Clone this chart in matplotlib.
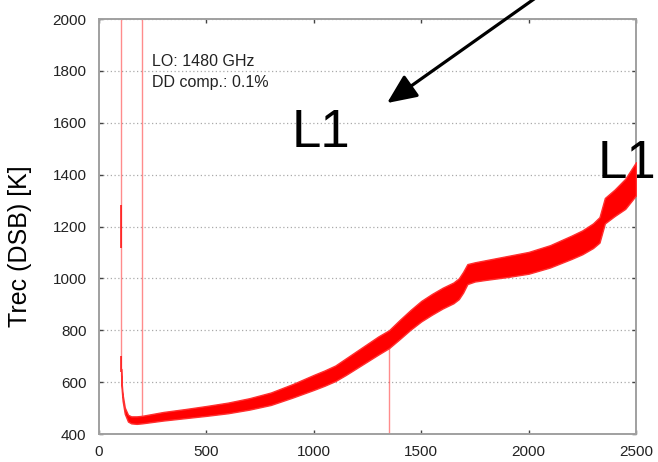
import matplotlib
matplotlib.use("Agg")
import matplotlib.pyplot as plt

plt.rcParams['font.family'] = ['Liberation Sans', 'DejaVu Sans']

# Noise band of the receiver-temperature trace
chan = [103, 106, 110, 120, 135, 150, 175, 200, 300, 400, 500, 600, 700, 800, 900,
        1000, 1050, 1100, 1150, 1200, 1250, 1300, 1350, 1400, 1450, 1500, 1550, 1600,
        1650, 1675, 1695, 1715, 1750, 1800, 1900,
        2000, 2100, 2200, 2250, 2300, 2330, 2355, 2400, 2450, 2500]
trec_lo = [628, 568, 528, 478, 448, 441, 439, 441, 452, 461, 470, 480, 494, 512, 540,
           570, 586, 604, 628, 654, 680, 706, 731, 766, 802, 834, 860, 884,
           904, 920, 945, 978, 988, 994, 1005,
           1018, 1042, 1075, 1093, 1117, 1138, 1212, 1240, 1268, 1320]
trec_hi = [652, 592, 552, 502, 474, 468, 468, 470, 485, 496, 508, 521, 538, 560, 592,
           628, 645, 664, 692, 720, 748, 776, 800, 840, 878, 913, 940, 964,
           984, 1000, 1025, 1055, 1062, 1070, 1086,
           1102, 1128, 1165, 1185, 1212, 1236, 1310, 1342, 1384, 1448]

# single-channel spikes
spike_x = [102, 200, 1350]
spike_lo = [650, 460, 400]
spike_hi = [2000, 2000, 765]
# darker parts of the first spike
dark_x = [102, 102]
dark_lo = [1116, 640]
dark_hi = [1283, 700]

xticks = [0, 500, 1000, 1500, 2000, 2500]
yticks = [400, 600, 800, 1000, 1200, 1400, 1600, 1800, 2000]

fig = plt.figure(figsize=(6.58, 4.62), dpi=100)
ax = fig.add_axes([99/658, 1-434/462, 537/658, 415/462])

ax.vlines(spike_x, spike_lo, spike_hi, colors='#ff0000', alpha=0.45, lw=1.0, zorder=2)
ax.vlines(dark_x, dark_lo, dark_hi, colors='#ff0000', alpha=0.85, lw=1.2, zorder=3)
ax.fill_between(chan, trec_lo, trec_hi, color='#ff0000', lw=1.0, edgecolor='#ff3030',
                zorder=4)

ax.set_xlim(0, 2500)
ax.set_ylim(400, 2000)
ax.set_xticks(xticks)
ax.set_yticks(yticks)
ax.set_xticklabels([str(v) for v in xticks])
ax.set_yticklabels([str(v) for v in yticks])

for s in ax.spines.values():
    s.set_color('#a0a0a0')
    s.set_linewidth(1.4)
ax.tick_params(direction='in', length=3, width=1, color='#444444',
               top=True, right=True, labelsize=11, labelcolor='#222222')
ax.tick_params(axis='x', pad=8)
ax.tick_params(axis='y', pad=9)
ax.yaxis.grid(True, linestyle=(0, (1, 2)), color='#aaaaaa', lw=0.9)
ax.set_axisbelow(True)

fig.text(20/658, 1-246/462, 'Trec (DSB) [K]', fontsize=18, rotation=90,
         ha='center', va='center', color='black')

ax.text(245, 1820, 'LO: 1480 GHz', fontsize=11.5, color='#222222', va='baseline')
ax.text(245, 1738, 'DD comp.: 0.1%', fontsize=11.5, color='#222222', va='baseline')

ax.text(898, 1506, 'L1', fontsize=38, color='black', va='baseline', ha='left')
ax.text(2322, 1387, 'L1', fontsize=38, color='black', va='baseline', ha='left',
        clip_on=False)

ax.annotate('', xy=(1341, 1676), xytext=(2090, 2115),
            arrowprops=dict(arrowstyle='-|>,head_length=0.9,head_width=0.4',
                            mutation_scale=20, color='black', lw=2.3,
                            shrinkA=0, shrinkB=0),
            annotation_clip=False)

fig.savefig('out.png', dpi=100)
